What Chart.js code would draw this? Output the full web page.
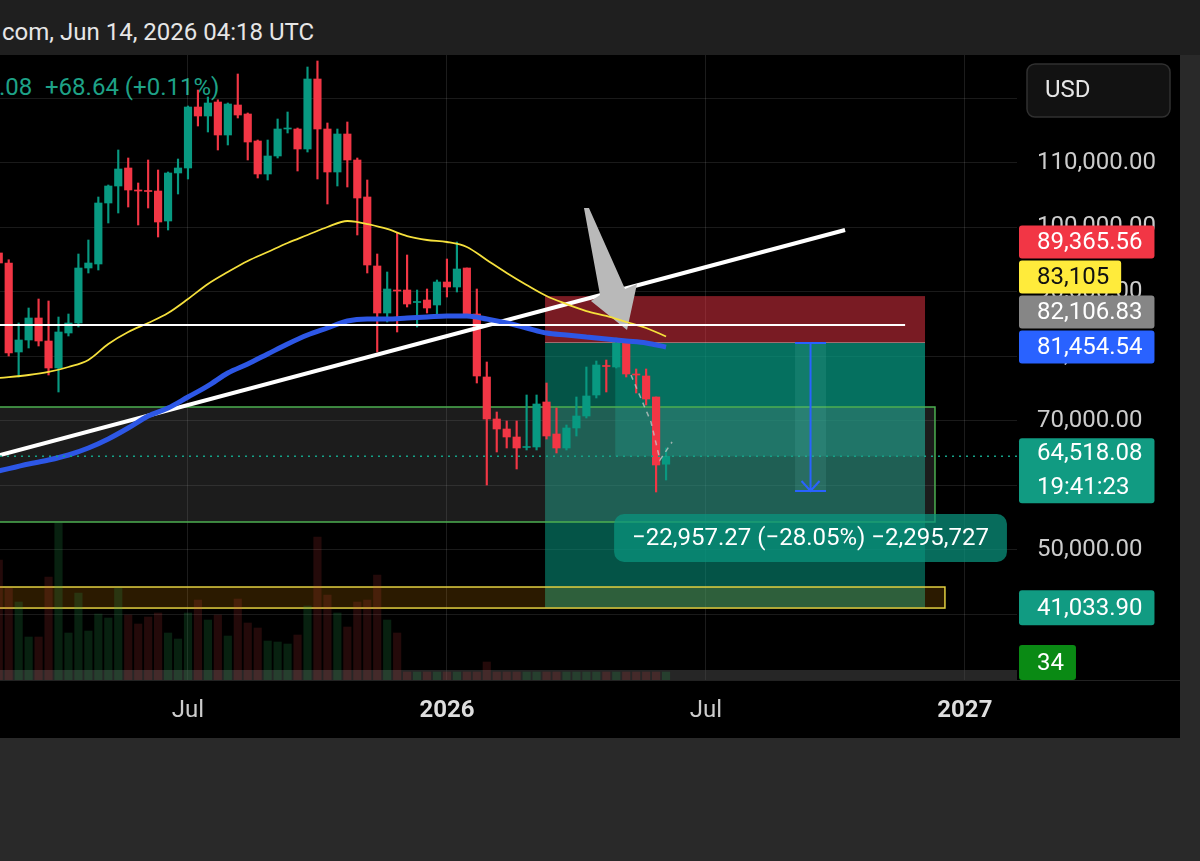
<!DOCTYPE html>
<html><head><meta charset="utf-8">
<script src="https://cdn.jsdelivr.net/npm/chart.js@4.4.1/dist/chart.umd.min.js"></script>
<style>
html,body{margin:0;padding:0;}
body{width:1200px;height:861px;background:#292929;position:relative;overflow:hidden;font-family:Roboto,"Noto Sans",sans-serif;}
#hdr{position:absolute;left:0;top:0;width:1200px;height:55px;background:#1f1f1f;}
#hdr span{position:absolute;left:2px;top:20px;font-size:24px;line-height:24px;color:#e6e6e6;white-space:nowrap;}
#panel{position:absolute;left:0;top:55px;width:1180px;height:683px;background:#000;overflow:hidden;}
#c{position:absolute;left:0;top:0;z-index:2;}
.lg{position:absolute;top:20px;font-size:24px;line-height:24px;color:#1ea287;white-space:nowrap;z-index:1;}
</style></head><body>
<div id="hdr"><span>com, Jun 14, 2026 04:18 UTC</span></div>
<div id="panel">
<div class="lg" style="left:-1px">.08</div><div class="lg" style="left:45px">+68.64 (+0.11%)</div>
<canvas id="c" width="1180" height="683"></canvas>
</div>
<script>
// ---------- categories / ticks ----------
const firstWeek = '2025-02-24';
const tickDates = ['2025-07-07','2026-01-05','2026-07-06','2027-01-04'];
const tickLabels = ['Jul','2026','Jul','2027'];
const tickBold = [false,true,false,true];
const yTicks = [40000,50000,60000,70000,80000,90000,100000,110000,120000];

// ---------- weekly candles ----------
const opens  = [96050,94496,80698,82558,85969,82403,78217,83643,85194,93721,94341,103798,106434,109225,105814,105736,105659,101008,108450,109225,118682,117287,119457,114341,118992,117597,113411,108295,111085,115271,115271,112171,123023,115271,108605,114496,110465,104729,94031,86744,90310,90310,88372,88760,87984,91550,90775,93721,86589,76822,70310,68760,67519,65891,65969,72946,67984,65814,68915,70775,74031,78605,78372,82093,77287,76977,73721,63300];
const highs  = [96500,95000,85194,87519,88915,88605,86124,86589,95891,98062,104729,106589,112016,110775,106899,110465,108915,108605,110620,118837,121318,120233,119800,119302,123798,117752,113566,113566,116822,117907,115426,124884,125814,116202,115271,116357,110775,107364,95891,93101,99147,95736,90310,90465,91860,95116,97752,93721,90465,79147,71395,70000,70000,74031,74031,75891,72016,69380,73721,78372,79302,79457,82868,82093,78062,78062,73721,65814];
const lows   = [78200,80077,76822,81318,81628,77132,74496,83178,84574,92946,93411,100698,102248,103178,100388,103023,98527,99612,105194,107519,115736,114806,112016,112791,116977,110465,107674,107364,110775,114651,108760,111705,107519,103643,106434,106279,98837,92946,80698,85349,83798,87674,84574,86744,86124,89225,90000,86124,75891,60078,65194,65814,62558,65504,65504,67200,65039,65504,67674,70465,73566,74496,78217,76822,74341,72481,58992,60853];
const closes = [94500,80542,82558,85969,82403,78217,83798,85194,93721,94496,103798,106434,109070,105814,105659,105581,100853,108450,109225,118682,117287,119302,114341,119147,117442,113256,108295,111085,115271,115426,112171,123023,115271,108605,114496,110465,104574,94186,86744,90465,90155,88140,88527,87519,91550,90775,93566,86434,76977,70310,68760,67519,65814,66047,72636,67674,65814,68915,70775,73876,78682,78450,82093,77287,77132,73411,63178,64518.08];
const volumes = [120,92,78,43,43,103,157,47,87,49,66,62,92,65,56,63,67,47,41,67,80,60,65,44,81,57,52,39,38,36,45,74,143,85,67,53,78,80,105,60,47,8,8,8,8,8,8,8,8,18,8,8,8,8,8,8,8,8,8,8,8,8,8,8,8,8,8,8];

// ---------- moving averages ----------
const yellowX  = [0,3,5,7,9,11,13,15,17,19,21,23,25,27,29,31,33,35,36,37,39,41,43,45,47,49,51,53,55,57,59,61,63,65,67];
const yellowMA = [76670,77130,77600,78370,79460,81940,83800,85190,86740,88910,91240,93100,94810,96200,97600,98840,100080,101010,100850,100540,99770,98680,98060,97750,96980,94960,92950,91090,89380,88140,87050,86280,85350,84420,83105];
const blueX  = [0,3,5,7,9,11,13,15,17,19,21,23,25,27,29,31,33,35,37,39,41,43,45,47,49,51,53,55,57,59,61,63,65,67];
const blueMA = [62250,63330,63950,64730,65810,67210,68910,70770,72010,73720,75430,77440,78840,80390,81940,83330,84420,85500,85810,85810,85970,86120,86280,86280,85810,85190,84420,83640,83330,83020,82710,82400,82090,81454.54];

// ---------- drawings (data units: week index, price) ----------
const trendX = [0.13, 84.97], trendY = [64728, 99612];
const hlineX = [-3, 91.0], hlinePrice = 84884;
const stopPrice = 89365.56, entryPrice = 82106.83, targetPrice = 41033.90;
const positionX = [54.85, 93.0], activeFrom = 61.9;
const grayRectX = [-3, 94.0], grayRectY = [72170, 54340];
const yellowRectX = [-3, 95.0], yellowRectY = [44260, 41000];
const measureX = [79.95, 83.06], measureDelta = -22957.27, measurePct = -28.05, measureQty = -2295727;
const arrowX = [58.76, 59.26, 62.88, 64.08, 63.08, 59.46, 60.37];
const arrowY = [103023, 103023, 90465, 91240, 84108, 88605, 89535];
const pathX = [63.48, 65.49, 66.39, 67.6], pathY = [77131, 69845, 63953, 66744];
const lastPrice = 64518.08, countdown = '19:41:23', volTag = '34';
const bandVol = 10;

// ---------- helpers ----------
const UP = '#089981', DN = '#f23645';
const VOL_UP = 'rgba(38,166,80,0.2)', VOL_DN = 'rgba(242,70,70,0.15)';
const FONT = 'Roboto, "Noto Sans", sans-serif';
const weekIdx = d => Math.round((Date.parse(d) - Date.parse(firstWeek)) / (7*864e5));
const tickIdx = tickDates.map(weekIdx);
const K = opens.map((_, i) => i);
const up = K.map(i => closes[i] >= opens[i]);
const fmt = (v, d) => v.toLocaleString('en-US', {minimumFractionDigits:d, maximumFractionDigits:d}).replace('-', '\u2212');
const X_MIN = 0.1265, X_MAX = 102.235, Y_MIN = 29844, Y_MAX = 126744;

const axisTags = [
  {price: stopPrice, dec:2, bg:'#f23645', fg:'#ffffff'},
  {price: yellowMA[yellowMA.length-1], dec:0, bg:'#ffeb3b', fg:'#111111'},
  {price: entryPrice, dec:2, bg:'#868686', fg:'#ffffff'},
  {price: blueMA[blueMA.length-1], dec:2, bg:'#2962ff', fg:'#ffffff'}
];

const noPad = s => { s.paddingTop = 0; s.paddingBottom = 0; s.paddingLeft = 0; s.paddingRight = 0; };

const overlay = {
  id: 'overlay',
  beforeDatasetsDraw(chart) {
    const {ctx, chartArea: a} = chart;
    const X = v => chart.scales.x.getPixelForValue(v), Y = v => chart.scales.y.getPixelForValue(v), V = v => chart.scales.v.getPixelForValue(v);
    const rect = (x0, x1, p0, p1, fill) => {
      const L = X(x0), R = X(x1), T = Math.min(Y(p0), Y(p1)), B = Math.max(Y(p0), Y(p1));
      ctx.fillStyle = fill; ctx.fillRect(L, T, R - L, B - T); return [L, T, R - L, B - T];
    };
    ctx.save();
    ctx.beginPath(); ctx.rect(a.left, a.top, a.width, a.height); ctx.clip();
    ctx.fillStyle = 'rgba(75,75,75,0.5)';
    ctx.fillRect(a.left, V(bandVol), a.width, V(0) - V(bandVol));
    rect(positionX[0], positionX[1], entryPrice, targetPrice, 'rgba(8,153,129,0.55)');
    rect(activeFrom, positionX[1], entryPrice, lastPrice, 'rgba(8,153,129,0.42)');
    rect(positionX[0], positionX[1], stopPrice, entryPrice, 'rgba(242,54,69,0.5)');
    ctx.fillStyle = 'rgba(255,255,255,0.35)';
    ctx.fillRect(X(positionX[0]), Math.round(Y(entryPrice)) - 1, X(positionX[1]) - X(positionX[0]), 1);
    let r = rect(grayRectX[0], grayRectX[1], grayRectY[0], grayRectY[1], 'rgba(140,140,140,0.2)');
    ctx.strokeStyle = '#4caf50'; ctx.lineWidth = 1.5; ctx.strokeRect(r[0], r[1], r[2], r[3]);
    r = rect(yellowRectX[0], yellowRectX[1], yellowRectY[0], yellowRectY[1], 'rgba(255,152,0,0.17)');
    ctx.strokeStyle = '#e3d040'; ctx.lineWidth = 1.5; ctx.strokeRect(r[0], r[1], r[2], r[3]);
    ctx.restore();
  },
  afterDatasetDraw(chart, args) {
    if (chart.data.datasets[args.index].label !== 'trend') return;
    const {ctx, chartArea: a} = chart;
    const X = v => chart.scales.x.getPixelForValue(v), Y = v => chart.scales.y.getPixelForValue(v);
    ctx.save();
    ctx.beginPath(); ctx.rect(a.left, a.top, a.width, a.height); ctx.clip();
    ctx.beginPath();
    arrowX.forEach((x, i) => { const px = X(x), py = Y(arrowY[i]); i ? ctx.lineTo(px, py) : ctx.moveTo(px, py); });
    ctx.closePath(); ctx.fillStyle = '#b9b9b9'; ctx.fill();
    ctx.restore();
  },
  afterDatasetsDraw(chart) {
    const {ctx} = chart;
    const X = v => chart.scales.x.getPixelForValue(v), Y = v => chart.scales.y.getPixelForValue(v);
    const x0 = X(measureX[0]), x1 = X(measureX[1]), xc = (x0 + x1) / 2;
    const yt = Y(entryPrice), yb = Y(entryPrice + measureDelta);
    ctx.save();
    ctx.fillStyle = 'rgba(110,210,190,0.13)'; ctx.fillRect(x0, yt, x1 - x0, yb - yt);
    ctx.strokeStyle = '#2962ff'; ctx.lineWidth = 2;
    ctx.beginPath();
    ctx.moveTo(x0, yt); ctx.lineTo(x1, yt);
    ctx.moveTo(x0, yb); ctx.lineTo(x1, yb);
    ctx.moveTo(xc, yt); ctx.lineTo(xc, yb);
    ctx.moveTo(xc - 9, yb - 10); ctx.lineTo(xc, yb); ctx.lineTo(xc + 9, yb - 10);
    ctx.stroke();
    const txt = fmt(measureDelta, 2) + ' (' + fmt(measurePct, 2) + '%) ' + fmt(measureQty, 0);
    ctx.font = '24px ' + FONT;
    const w = ctx.measureText(txt).width + 36, h = 48, bx = xc - w / 2, by = yb + 23;
    ctx.fillStyle = 'rgba(10,150,128,0.72)';
    ctx.beginPath(); ctx.roundRect(bx, by, w, h, 10); ctx.fill();
    ctx.fillStyle = '#ffffff'; ctx.textAlign = 'center'; ctx.textBaseline = 'middle';
    ctx.fillText(txt, xc, by + h / 2 + 1);
    ctx.restore();
  },
  afterDraw(chart) {
    const {ctx, chartArea: a} = chart;
    const Y = v => chart.scales.y.getPixelForValue(v), V = v => chart.scales.v.getPixelForValue(v);
    ctx.save();
    ctx.fillStyle = '#222222'; ctx.fillRect(0, a.bottom, chart.width, 1);
    ctx.font = '24px ' + FONT; ctx.textAlign = 'left'; ctx.textBaseline = 'middle';
    const bx = a.right + 2, tx = a.right + 20;
    const tag = (txt, cy, h, bg, fg) => {
      const w = ctx.measureText(txt).width + 30;
      ctx.fillStyle = bg; ctx.beginPath(); ctx.roundRect(bx, cy - h / 2, w, h, 3); ctx.fill();
      ctx.fillStyle = fg; ctx.fillText(txt, tx, cy + 1);
    };
    const tags = axisTags.map(t => Object.assign({}, t, {y: Y(t.price)})).sort((p, q) => q.y - p.y);
    let prev = Infinity;
    tags.forEach(t => { t.cy = Math.min(t.y, prev - 35); prev = t.cy; });
    tags.forEach(t => tag(fmt(t.price, t.dec), t.cy, 33, t.bg, t.fg));
    // last price with countdown
    const ly = Y(lastPrice);
    const lt = fmt(lastPrice, 2);
    const lw = Math.max(ctx.measureText(lt).width, ctx.measureText(countdown).width) + 30;
    ctx.fillStyle = '#119b82'; ctx.beginPath(); ctx.roundRect(bx, ly - 18, lw, 65, 3); ctx.fill();
    ctx.fillStyle = '#ffffff'; ctx.fillText(lt, tx, ly - 2); ctx.fillText(countdown, tx, ly + 32);
    // target
    tag(fmt(targetPrice, 2), Y(targetPrice), 35, '#119b82', '#ffffff');
    // volume tag
    const vy = Math.min(V(volumes[volumes.length - 1]), a.bottom - 17.5);
    tag(volTag, vy, 35, '#0a8a14', '#ffffff');
    // currency box
    ctx.fillStyle = '#121212'; ctx.strokeStyle = '#303030'; ctx.lineWidth = 1.5;
    ctx.beginPath(); ctx.roundRect(1027, 9, 143, 53, 8); ctx.fill(); ctx.stroke();
    ctx.fillStyle = '#e6e6e6'; ctx.fillText('USD', 1045, 36);
    ctx.restore();
  }
};

new Chart(document.getElementById('c'), {
  type: 'bar',
  data: {
    datasets: [
      {type:'bar', label:'vol', data: K.map(i => ({x:i, y:volumes[i]})), xAxisID:'x', yAxisID:'v',
        backgroundColor: up.map(u => u ? VOL_UP : VOL_DN), barThickness:7.5, grouped:false, order:100},
      {type:'bar', label:'wick', data: K.map(i => ({x:i, y:[lows[i], highs[i]]})), xAxisID:'x', yAxisID:'y',
        backgroundColor: up.map(u => u ? UP : DN), barThickness:1.5, grouped:false, order:90},
      {type:'bar', label:'body', data: K.map(i => ({x:i, y:[opens[i], closes[i]]})), xAxisID:'x', yAxisID:'y',
        backgroundColor: up.map(u => u ? UP : DN), barThickness:7.5, minBarLength:1, grouped:false, order:80},
      {type:'line', label:'trend', data: trendX.map((x, i) => ({x, y:trendY[i]})), yAxisID:'y',
        borderColor:'#ffffff', borderWidth:4, pointRadius:0, order:70},
      {type:'line', label:'maBlue', data: blueX.map((x, i) => ({x, y:blueMA[i]})), yAxisID:'y',
        borderColor:'#2d57e6', borderWidth:5, pointRadius:0, cubicInterpolationMode:'monotone', order:60},
      {type:'line', label:'maYellow', data: yellowX.map((x, i) => ({x, y:yellowMA[i]})), yAxisID:'y',
        borderColor:'#f5e03c', borderWidth:1.8, pointRadius:0, cubicInterpolationMode:'monotone', order:50},
      {type:'line', label:'hline', data: hlineX.map(x => ({x, y:hlinePrice})), yAxisID:'y',
        borderColor:'#ffffff', borderWidth:2, pointRadius:0, order:40},
      {type:'line', label:'last', data: [{x:X_MIN, y:lastPrice}, {x:X_MAX, y:lastPrice}], yAxisID:'y',
        borderColor:'#15a187', borderWidth:1.5, borderDash:[2,5], pointRadius:0, order:30},
      {type:'line', label:'path', data: pathX.map((x, i) => ({x, y:pathY[i]})), yAxisID:'y',
        borderColor:'rgba(200,200,200,0.75)', borderWidth:1.5, borderDash:[5,5], pointRadius:0, order:20}
    ]
  },
  options: {
    responsive:false, animation:false, events:[],
    layout:{padding:0},
    plugins:{legend:{display:false}, tooltip:{enabled:false}},
    scales:{
      x:{type:'linear', min:X_MIN, max:X_MAX, offset:false,
        afterBuildTicks: s => { s.ticks = tickIdx.map(v => ({value:v})); },
        afterFit: s => { s.height = 58; noPad(s); },
        grid:{color:'rgba(255,255,255,0.11)', drawTicks:false, offset:false},
        border:{display:false},
        ticks:{padding:17, autoSkip:false, maxRotation:0,
          color: c => tickBold[tickIdx.indexOf(c.tick ? c.tick.value : -1)] ? '#dedede' : '#cccccc',
          font: c => ({family:FONT, size:24, weight: tickBold[tickIdx.indexOf(c.tick ? c.tick.value : -1)] ? 'bold' : 'normal'}),
          callback: v => { const j = tickIdx.indexOf(v); return j >= 0 ? tickLabels[j] : ''; }}
      },
      y:{type:'linear', position:'right', min:Y_MIN, max:Y_MAX, beginAtZero:false,
        afterBuildTicks: s => { s.ticks = yTicks.map(v => ({value:v})); },
        afterFit: s => { s.width = 163; noPad(s); },
        grid:{color:'rgba(255,255,255,0.1)', drawTicks:false},
        border:{display:false},
        ticks:{padding:20, color:'#cccccc', font:{family:FONT, size:24},
          callback: v => fmt(v, 2)}
      },
      v:{type:'linear', display:false, min:0, max:625, afterFit: noPad}
    }
  },
  plugins:[overlay]
});
</script>
</body></html>
